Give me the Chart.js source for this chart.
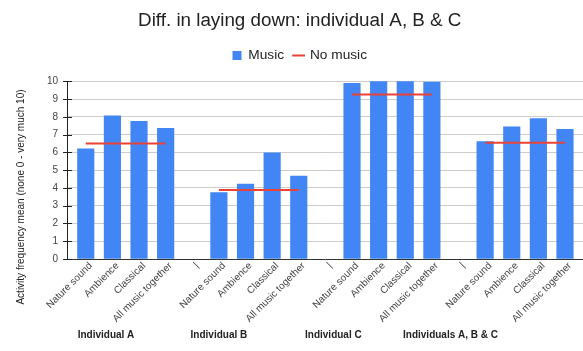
<!DOCTYPE html>
<html>
<head>
<meta charset="utf-8">
<script src="https://cdn.jsdelivr.net/npm/chart.js@4"></script>
<style>
  html, body { margin: 0; padding: 0; background: #fff; }
  #wrap { width: 583px; height: 351px; }
</style>
</head>
<body>
<div id="wrap"><canvas id="chart"></canvas></div>
<script>
// x axis categories, "|" is the spacer between groups
const categories = [
  "Nature sound", "Ambience", "Classical", "All music together", "|",
  "Nature sound", "Ambience", "Classical", "All music together", "|",
  "Nature sound", "Ambience", "Classical", "All music together", "|",
  "Nature sound", "Ambience", "Classical", "All music together"
];
const groups = ["Individual A", "Individual B", "Individual C", "Individuals A, B & C"];

// activity mean with music, per group
const musicA = [6.2, 8.05, 7.75, 7.35];
const musicB = [3.73, 4.22, 5.97, 4.67];
const musicC = [9.89, 10, 10, 9.95];
const musicABC = [6.6, 7.43, 7.9, 7.3];

// one value per group without music
const noMusic = [6.5, 3.88, 9.25, 6.54];

const yTicks = [0, 1, 2, 3, 4, 5, 6, 7, 8, 9, 10];
const yTitle = "Activity frequency mean (none 0 - very much 10)";

const FONT = "'Liberation Sans', Arial, sans-serif";
const BLUE = "#4285f4";
const RED = "#ea4335";

// build points: group g takes category slots g*5 .. g*5+3
const music = [musicA, musicB, musicC, musicABC];
const musicPoints = [];
const noMusicPoints = [];
music.forEach((vals, g) => {
    vals.forEach((v, j) => {
        musicPoints.push({ x: g * 5 + j, y: v });
        noMusicPoints.push({ x: g * 5 + j, y: noMusic[g] });
    });
    if (g < music.length - 1) noMusicPoints.push({ x: g * 5 + 4, y: null });
});

// title/legend sit a bit right of centre, and the legend needs more room below it
const headerLayout = {
    id: "headerLayout",
    beforeLayout(chart) {
        const lg = chart.legend;
        if (lg && !lg._extraFit) {
            const fit = lg.fit.bind(lg);
            lg.fit = function () { fit(); this.height += 9; };
            lg._extraFit = true;
        }
    },
    afterLayout(chart) {
        if (chart.titleBlock) chart.titleBlock.left += 16.5;
        if (chart.legend) chart.legend.left += 16.5;
    }
};

// group names under the rotated labels + the y axis title
const extraText = {
    id: "extraText",
    afterDraw(chart) {
        const xs = chart.scales.x;
        const at = [0.76, 5.0, 9.3, 13.7];
        const c = chart.ctx;
        c.save();
        c.font = "bold 10px " + FONT;
        c.fillStyle = "#222";
        c.textAlign = "center";
        c.textBaseline = "middle";
        groups.forEach((g, i) => c.fillText(g, xs.getPixelForValue(at[i]), 335));

        c.font = "10px " + FONT;
        c.translate(21, 197);
        c.rotate(-Math.PI / 2);
        c.fillText(yTitle, 0, 0);
        c.restore();
    }
};

// small tick marks across the y axis line
const yTickMarks = {
    id: "yTickMarks",
    afterDraw(chart) {
        const ys = chart.scales.y;
        const x = chart.chartArea.left;
        const c = chart.ctx;
        c.save();
        c.strokeStyle = "#222";
        c.lineWidth = 1;
        ys.ticks.forEach(t => {
            const y = Math.round(ys.getPixelForValue(t.value)) + 0.5;
            const major = yTicks.includes(t.value);
            c.beginPath();
            c.moveTo(x - (major ? 4 : 2), y);
            c.lineTo(x + (major ? 5 : 3), y);
            c.stroke();
        });
        c.restore();
    }
};

Chart.defaults.font.family = FONT;

new Chart(document.getElementById("chart"), {
    type: "bar",
    data: {
        datasets: [
            {
                label: "Music",
                data: musicPoints,
                backgroundColor: BLUE,
                barThickness: 16.5,
                pointStyle: "rect",
                order: 1
            },
            {
                type: "line",
                label: "No music",
                data: noMusicPoints,
                borderColor: RED,
                backgroundColor: RED,
                borderWidth: 2,
                pointRadius: 0,
                pointStyle: "line",
                spanGaps: false,
                order: 0
            }
        ]
    },
    options: {
        responsive: true,
        maintainAspectRatio: false,
        animation: false,
        layout: { padding: 0 },
        plugins: {
            title: {
                display: true,
                text: "Diff. in laying down: individual A, B & C",
                color: "#222",
                font: { size: 18.8, weight: "normal" },
                padding: { top: 10, bottom: 6 }
            },
            legend: {
                labels: {
                    usePointStyle: true,
                    boxWidth: 9,
                    boxHeight: 9,
                    color: "#222",
                    font: { size: 13.7 },
                    padding: 10,
                    sort: (a, b) => a.datasetIndex - b.datasetIndex
                }
            },
            tooltip: { enabled: false }
        },
        scales: {
            x: {
                type: "linear",
                offset: false,
                min: -0.705,
                max: 18.676,
                afterBuildTicks: s => { s.ticks = categories.map((_, i) => ({ value: i })); },
                afterFit: s => { s.height = 92; },
                grid: { display: false, drawTicks: false },
                border: { display: true, color: "#333", width: 1 },
                ticks: {
                    autoSkip: false,
                    minRotation: 45,
                    maxRotation: 45,
                    color: "#444",
                    font: { size: 10 },
                    padding: 1,
                    labelOffset: 5,
                    callback: v => categories[v]
                }
            },
            y: {
                min: 0,
                max: 10,
                afterFit: s => { s.width = 67; },
                grid: {
                    color: c => yTicks.includes(c.tick.value) ? "#cccccc" : "#ececec",
                    drawTicks: false
                },
                border: { display: true, color: "#222", width: 1 },
                ticks: {
                    stepSize: 0.5,
                    color: "#444",
                    font: { size: 10 },
                    padding: 9,
                    callback: v => yTicks.includes(v) ? v : ""
                }
            }
        }
    },
    plugins: [headerLayout, extraText, yTickMarks]
});
</script>
</body>
</html>
